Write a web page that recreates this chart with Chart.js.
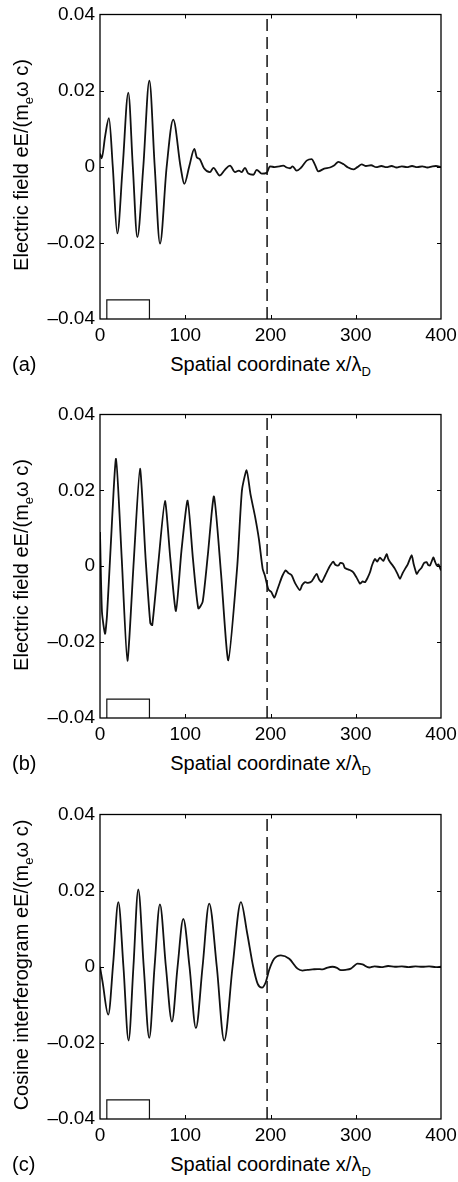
<!DOCTYPE html>
<html><head><meta charset="utf-8">
<script src="https://cdn.jsdelivr.net/npm/chart.js@4.4.1/dist/chart.umd.min.js"></script>
<style>
html,body{margin:0;padding:0;background:#fff;}
body{width:458px;height:1182px;position:relative;overflow:hidden;font-family:"Liberation Sans",Arial,Helvetica,sans-serif;color:#000;}
canvas{position:absolute;left:0;}
.ytitle{position:absolute;white-space:nowrap;font-size:20px;line-height:1;transform:translate(-50%,-50%) rotate(-90deg);}
.xtitle{position:absolute;white-space:nowrap;font-size:20px;line-height:1;transform:translate(-50%,-50%);}
.plabel{position:absolute;font-size:20px;line-height:1;transform:translateY(-50%);}
.sub{font-size:13px;position:relative;top:5px;}
</style></head>
<body>
<canvas id="ca" width="458" height="350" style="top:0px"></canvas>
<canvas id="cb" width="458" height="350" style="top:400px"></canvas>
<canvas id="cc" width="458" height="350" style="top:800px"></canvas>

<div class="ytitle" style="left:21px;top:164.5px">Electric field eE/(m<span class="sub">e</span>ω c)</div>
<div class="xtitle" style="left:270.5px;top:364px">Spatial coordinate x/λ<span class="sub">D</span></div>
<div class="plabel" style="left:12px;top:364px">(a)</div>

<div class="ytitle" style="left:21px;top:564.5px">Electric field eE/(m<span class="sub">e</span>ω c)</div>
<div class="xtitle" style="left:270.5px;top:763px">Spatial coordinate x/λ<span class="sub">D</span></div>
<div class="plabel" style="left:12px;top:763px">(b)</div>

<div class="ytitle" style="left:21px;top:965px">Cosine interferogram eE/(m<span class="sub">e</span>ω c)</div>
<div class="xtitle" style="left:270.5px;top:1164px">Spatial coordinate x/λ<span class="sub">D</span></div>
<div class="plabel" style="left:12px;top:1164px">(c)</div>

<script>
// ---- data ----
const xTicks = [0, 100, 200, 300, 400];
const yTicks = [-0.04, -0.02, 0, 0.02, 0.04];
const yTickLabels = ["\u20130.04", "\u20130.02", "0", "0.02", "0.04"];

const markerX = [196, 196];
const markerY = [-0.04, 0.04];
const pulseX = [8, 8, 58, 58];
const pulseY = [-0.04, -0.035, -0.035, -0.04];

// panel (a)
const aX = [0, 2, 6, 10.5, 15, 20.3, 26.6, 33.2, 38.5, 43.8,
  50.8, 57.9, 64.2, 70.4, 78.2, 85.9, 94.5, 98.9, 104.8, 110.7,
  113.5, 117, 122, 129, 133, 140.5, 146.5, 152.5, 158.4, 163,
  166.2, 170, 174, 179.9, 183.8, 189.7, 195.5, 199.4, 205, 210,
  215, 219, 222.8, 226, 230.6, 236, 242.4, 248.2, 252.2, 256,
  263, 269.8, 275, 279.6, 285.4, 291, 297.2, 302, 307, 312,
  318, 324, 330, 336, 342, 348, 354, 360, 366, 372,
  378, 384, 390, 394, 400];
const aY = [0.0035, 0.0022, 0.008, 0.0128, 0, -0.0175, 0, 0.0195, 0, -0.0185,
  0, 0.0226, 0, -0.0202, 0, 0.0124, 0, -0.0045, 0.0002, 0.0047,
  0.0025, 0.002, -0.0004, -0.0014, -0.0003, -0.0023, -0.0008, 0.0003, -0.0014, -0.001,
  -0.0014, -0.0003, -0.0018, -0.0021, -0.0008, -0.0018, -0.0016, 0.0001, -0.0001, 0.0001,
  0.0003, -0.0002, -0.0004, 0.0001, -0.001, -0.0002, 0.0016, 0.002, 0.0005, -0.0012,
  -0.0005, -0.0002, 0.0004, 0.0013, 0.0007, -0.0002, -0.0007, -0.0001, 0.0006, 0.0002,
  0.0004, -0.0001, 0.0002, -0.0001, 0.0002, -0.0002, 0.0001, -0.0001, 0.0002, -0.0001,
  0.0001, -0.0002, 0.0001, 0.0002, -0.0001];

// panel (b)
const bX = [0, 2.3, 5.9, 8.2, 12.5, 18.8, 25.5, 32.1, 39.5, 46.9,
  53.5, 59, 61.3, 68.5, 76.2, 82.5, 89.1, 95.5, 102.8, 109,
  115.3, 120.4, 126.5, 133.7, 142, 150.5, 161, 166.5, 172, 176.5,
  181.8, 186.5, 190.8, 193.5, 197.5, 201, 204.5, 208, 211.1, 214,
  217.8, 221, 224.8, 229, 234.6, 237, 240.5, 244, 248.3, 251,
  254.2, 257, 260, 264, 267.9, 270, 273.7, 276, 279.6, 282,
  285.4, 287, 289.3, 293, 297.2, 301, 305, 308, 310.9, 314,
  316.7, 319, 322.6, 325, 328.4, 332.3, 336.3, 338, 340.2, 343,
  346, 349, 351.9, 355, 357.8, 361, 365.6, 368, 371.5, 374,
  377.4, 380, 383.2, 385, 387.1, 391, 393, 395, 397, 400];
const bY = [0.009, -0.012, -0.0178, -0.013, 0.005, 0.0283, 0.002, -0.0249, 0.001, 0.0257,
  0.002, -0.015, -0.0155, 0.001, 0.0172, 0.002, -0.0118, 0.004, 0.0173, 0.002,
  -0.0111, -0.0094, 0.003, 0.0184, -0.002, -0.0248, 0, 0.02, 0.0253, 0.019,
  0.0132, 0.007, -0.0007, -0.0025, -0.0061, -0.0068, -0.0083, -0.0062, -0.0042, -0.0025,
  -0.0011, -0.0018, -0.0024, -0.0045, -0.0063, -0.005, -0.0042, -0.0044, -0.004, -0.003,
  -0.002, -0.0035, -0.0042, -0.0025, -0.0007, 0.0002, 0.0012, 0.0004, 0.0002, 0.0009,
  0.0006, -0.0004, -0.0007, -0.001, -0.0016, -0.003, -0.0046, -0.004, -0.0042, -0.003,
  -0.0016, 0.0002, 0.0019, 0.0012, 0.0023, 0.0014, 0.0032, 0.002, 0.0011, 0.0003,
  -0.0007, -0.002, -0.0033, -0.0018, -0.0007, 0.0005, 0.0029, 0.0005, -0.002, -0.0012,
  -0.0003, 0.0008, 0.0011, 0.0003, 0.0002, 0.0023, 0.0012, 0.0002, 0.0005, -0.0011];

// panel (c)
const cX = [0, 3, 9.7, 15.5, 21.5, 27.5, 33.5, 39.2, 44.9, 51.3,
  57.8, 64, 70.3, 77.3, 84.4, 91, 97.7, 105, 112.5, 120.3,
  128.1, 137, 145.7, 155.5, 165.3, 172.5, 179.7, 185, 190, 194.5,
  198.5, 204.3, 212.2, 222, 231.7, 237.6, 243, 249.3, 255, 261,
  267, 272.7, 278, 282.5, 288, 294.2, 298, 302, 308, 315.8,
  322, 330, 338, 346, 354, 362, 370, 378, 386, 394, 400];
const cY = [0, -0.004, -0.0126, 0.001, 0.017, 0, -0.0194, 0, 0.0203, 0,
  -0.0187, 0, 0.0164, 0, -0.0144, 0, 0.0126, 0, -0.0161, 0,
  0.0166, 0, -0.0194, 0, 0.017, 0.009, 0, -0.0045, -0.0055, -0.004,
  -0.0008, 0.0021, 0.003, 0.0021, -0.0005, -0.001, -0.0008, -0.0007, -0.0006, -0.0007,
  -0.0002, 0, -0.0003, -0.0009, -0.0008, -0.0005, 0.0002, 0.0008, 0.0006, -0.0002,
  0.0001, -0.0001, 0.0002, 0, 0.0001, -0.0001, 0.0001, 0, 0.0001, -0.0001, 0];

// ---- drawing ----
const FAMILY = '"Liberation Sans", Arial, Helvetica, sans-serif';
const YFONT = {family: FAMILY, size: 19, lineHeight: 1};
const XFONT = {family: FAMILY, size: 19, lineHeight: 1.74};

const framePlugin = {
  id: 'frame',
  afterDatasetsDraw(chart) {
    const {ctx, chartArea: a, scales: {x, y}} = chart;
    ctx.save();
    ctx.strokeStyle = '#000';
    ctx.lineWidth = 1.3;
    ctx.strokeRect(a.left, a.top, a.right - a.left, a.bottom - a.top);
    ctx.lineWidth = 1;
    const L = 4;
    ctx.beginPath();
    x.ticks.forEach(t => {
      if (t.value <= x.min || t.value >= x.max) return;
      const p = Math.round(x.getPixelForValue(t.value)) + 0.5;
      ctx.moveTo(p, a.bottom); ctx.lineTo(p, a.bottom - L);
      ctx.moveTo(p, a.top); ctx.lineTo(p, a.top + L);
    });
    y.ticks.forEach(t => {
      if (t.value <= y.min || t.value >= y.max) return;
      const p = Math.round(y.getPixelForValue(t.value)) + 0.5;
      ctx.moveTo(a.left, p); ctx.lineTo(a.left + L, p);
      ctx.moveTo(a.right, p); ctx.lineTo(a.right - L, p);
    });
    ctx.stroke();
    ctx.restore();
  }
};

function toPts(xs, ys) { return xs.map((x, i) => ({x: x, y: ys[i]})); }

function makePanel(id, xs, ys, padTop, xAxisH, curveMode) {
  const main = {data: toPts(xs, ys), borderColor: '#111', borderWidth: 1.8, pointRadius: 0, fill: false};
  if (curveMode === 'monotone') main.cubicInterpolationMode = 'monotone';
  else main.tension = curveMode;
  new Chart(document.getElementById(id), {
    type: 'line',
    data: {
      datasets: [
        main,
        {data: toPts(markerX, markerY), borderColor: '#111', borderWidth: 1.5,
         borderDash: [12, 6], pointRadius: 0, fill: false},
        {data: toPts(pulseX, pulseY), borderColor: '#111', borderWidth: 1.2,
         pointRadius: 0, tension: 0, fill: false}
      ]
    },
    options: {
      responsive: false, animation: false, devicePixelRatio: 1,
      layout: {padding: {top: padTop, right: 17, left: 0, bottom: 0}},
      plugins: {legend: {display: false}, tooltip: {enabled: false}},
      scales: {
        x: {
          type: 'linear', min: 0, max: 400,
          afterBuildTicks: s => { s.ticks = xTicks.map(v => ({value: v})); },
          afterFit: s => { s.height = xAxisH; },
          grid: {display: false, drawTicks: false}, border: {display: false},
          ticks: {padding: 0, color: '#000', font: XFONT, maxRotation: 0, autoSkip: false,
                  callback: v => String(v)}
        },
        y: {
          type: 'linear', min: -0.04, max: 0.04,
          afterBuildTicks: s => { s.ticks = yTicks.map(v => ({value: v})); },
          afterFit: s => { s.width = 100; },
          grid: {display: false, drawTicks: false}, border: {display: false},
          ticks: {padding: 5, color: '#000', font: YFONT, autoSkip: false,
                  callback: v => yTickLabels[yTicks.findIndex(t => Math.abs(t - v) < 1e-9)]}
        }
      }
    },
    plugins: [framePlugin]
  });
}

makePanel('ca', aX, aY, 10, 31, 'monotone');
makePanel('cb', bX, bY, 11, 32, 0.2);
makePanel('cc', cX, cY, 11, 31, 'monotone');
</script>
</body></html>
